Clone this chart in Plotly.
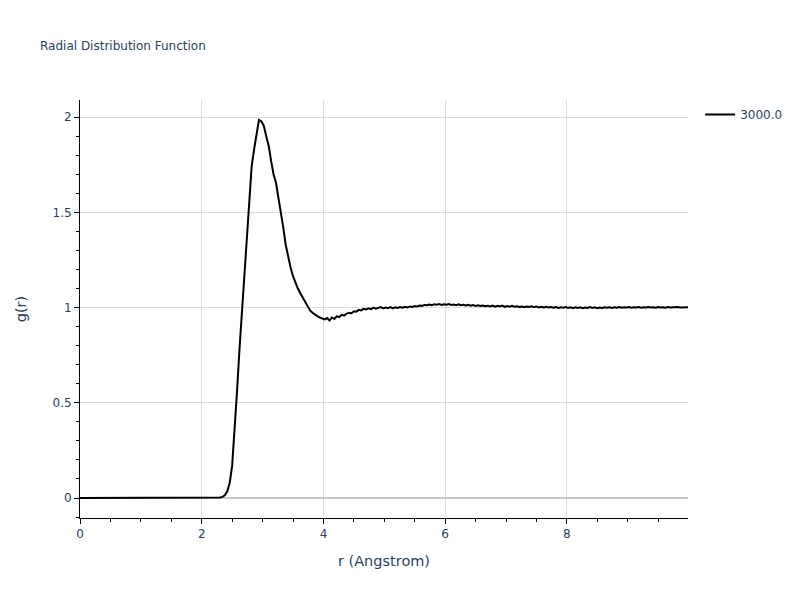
import plotly.graph_objects as go

# Peak region samples (r in Angstrom)
r_head = [0.0, 0.5, 1.0, 1.5, 2.0, 2.1, 2.2, 2.3, 2.34, 2.38, 2.42, 2.46, 2.50,
          2.54, 2.58, 2.62, 2.66, 2.70, 2.74, 2.78, 2.82, 2.86, 2.90, 2.94, 2.98,
          3.02, 3.06, 3.10, 3.14, 3.18, 3.22, 3.26, 3.30, 3.34, 3.38, 3.42, 3.46,
          3.50, 3.54, 3.58, 3.62, 3.66, 3.70, 3.74, 3.78, 3.82, 3.86, 3.90, 3.94, 3.98]
g_head = [0.0, 0.0, 0.0, 0.0, 0.001, 0.002, 0.002, 0.003, 0.006, 0.014, 0.035, 0.08, 0.17,
          0.34, 0.56, 0.78, 0.98, 1.16, 1.36, 1.56, 1.74, 1.83, 1.90, 1.985, 1.978,
          1.955, 1.90, 1.85, 1.77, 1.70, 1.655, 1.58, 1.50, 1.42, 1.33, 1.26, 1.21,
          1.165, 1.13, 1.10, 1.075, 1.053, 1.03, 1.005, 0.985, 0.973, 0.963, 0.955, 0.948, 0.944]

# Tail samples every 0.04 from 4.02
g_tail = [0.938, 0.945, 0.932, 0.948, 0.940, 0.955, 0.950, 0.962, 0.958, 0.968, 0.972, 0.970,
          0.980, 0.978, 0.988, 0.985, 0.993, 0.990, 0.996, 0.992, 1.000, 0.994, 0.998, 1.003,
          0.996, 1.000, 0.997, 1.002, 0.996, 1.001, 0.998, 1.003, 0.999, 1.004, 1.001, 1.006,
          1.003, 1.008, 1.006, 1.011, 1.009, 1.014, 1.012, 1.016, 1.013, 1.017, 1.015, 1.018,
          1.014, 1.017, 1.015, 1.018, 1.014, 1.016, 1.013, 1.017, 1.012, 1.015, 1.011, 1.014,
          1.010, 1.013, 1.009, 1.012, 1.008, 1.011, 1.007, 1.010, 1.006, 1.010, 1.005, 1.009,
          1.006, 1.010, 1.004, 1.008, 1.005, 1.009, 1.004, 1.007, 1.003, 1.006, 1.002, 1.006,
          1.003, 1.007, 1.002, 1.005, 1.001, 1.004, 1.000, 1.004, 1.001, 1.003, 0.999, 1.003,
          0.998, 1.002, 0.999, 1.003, 0.998, 1.001, 0.997, 1.002, 0.998, 1.001, 0.997, 1.000,
          0.998, 1.003, 0.998, 1.001, 0.997, 1.000, 0.998, 1.002, 0.999, 1.001, 0.998, 1.002,
          0.999, 1.003, 0.999, 1.002, 1.000, 1.003, 0.999, 1.002, 1.000, 1.003, 0.999, 1.002,
          1.000, 1.003, 1.000, 1.002, 0.999, 1.003, 1.000, 1.002, 0.999, 1.003, 1.001, 1.002,
          1.000, 1.003, 1.001, 1.002, 1.000]
r_tail = [round(4.02 + 0.04 * i, 2) for i in range(len(g_tail))]

r = r_head + r_tail + [9.99]
g = g_head + g_tail + [1.002]

series_name = "3000.0"

fig = go.Figure()
fig.add_trace(go.Scatter(x=r, y=g, mode="lines", name=series_name,
                         line=dict(color="black", width=2)))

axis_common = dict(
    showline=True, linecolor="black", linewidth=1,
    ticks="outside", ticklen=5, tickcolor="black",
    showgrid=True, gridcolor="#dddddd", gridwidth=1,
    tickfont=dict(size=12, color="#2a3f5f"),
)

fig.update_layout(
    width=800, height=600,
    template="plotly",
    paper_bgcolor="white", plot_bgcolor="white",
    title=dict(text="Radial Distribution Function", x=0.05, y=0.93,
               font=dict(size=12, color="#2a3f5f")),
    margin=dict(l=80, r=112, t=100, b=82),
    showlegend=True,
    legend=dict(x=1.02, y=1, font=dict(size=12, color="#2a3f5f")),
    font=dict(family="DejaVu Sans, Verdana, sans-serif", color="#2a3f5f"),
)
fig.update_xaxes(**axis_common, range=[0, 9.99], dtick=2, zeroline=False,
                 title=dict(text="r (Angstrom)", font=dict(size=14.5)),
                 minor=dict(ticks="outside", dtick=0.5, ticklen=3, tickcolor="black", showgrid=False))
fig.update_yaxes(**axis_common, range=[-0.105, 2.09], dtick=0.5,
                 zeroline=True, zerolinecolor="#c8c8c8", zerolinewidth=2,
                 title=dict(text="g(r)", font=dict(size=14.5), standoff=22),
                 minor=dict(ticks="outside", dtick=0.1, ticklen=3, tickcolor="black", showgrid=False))

fig.write_html("out.html", config={"displayModeBar": False},
               post_script="document.body.style.margin='0px';")
